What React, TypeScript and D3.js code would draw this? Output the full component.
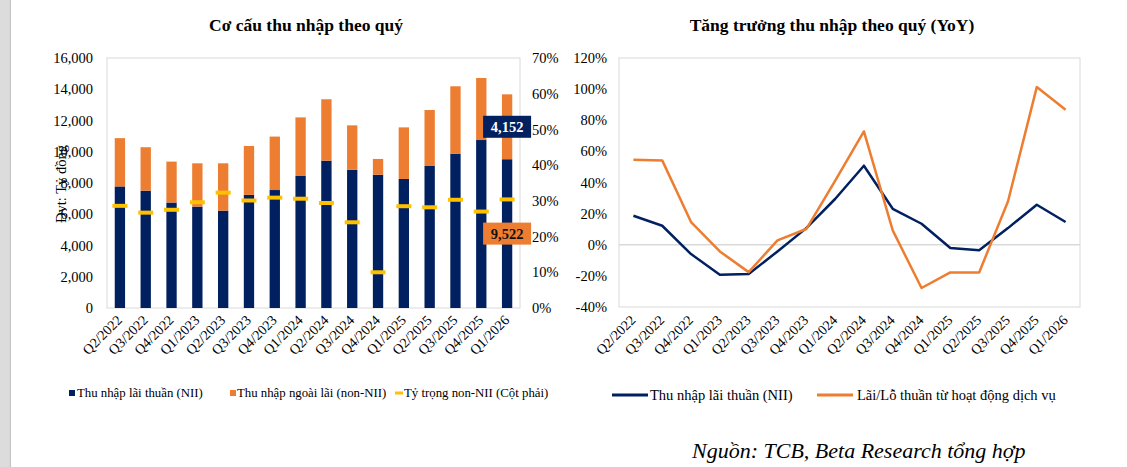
import React from "react";
import * as d3 from "d3";

const quarters = [
  "Q2/2022", "Q3/2022", "Q4/2022", "Q1/2023", "Q2/2023", "Q3/2023", "Q4/2023", "Q1/2024",
  "Q2/2024", "Q3/2024", "Q4/2024", "Q1/2025", "Q2/2025", "Q3/2025", "Q4/2025", "Q1/2026",
];

// Cơ cấu thu nhập (tỷ đồng)
const nii = [7780, 7510, 6750, 6490, 6230, 7240, 7550, 8450, 9430, 8850, 8530, 8260, 9090, 9860, 10750, 9522];
const nonNii = [3090, 2780, 2620, 2770, 3030, 3130, 3420, 3750, 3930, 2840, 1010, 3300, 3580, 4330, 3970, 4152];
// Tỷ trọng non-NII (%)
const nonNiiShare = [28.6, 26.7, 27.5, 29.6, 32.3, 30.1, 30.9, 30.6, 29.4, 24.0, 10.0, 28.5, 28.2, 30.3, 27.0, 30.4];

// Tăng trưởng YoY (%)
const niiGrowth = [18.6, 12.2, -6.0, -19.3, -18.8, -4.3, 10.7, 29.4, 50.8, 23.1, 13.5, -2.1, -3.6, 10.7, 25.7, 14.6];
const feeGrowth = [54.6, 54.2, 14.6, -4.3, -17.6, 2.8, 10.1, 41.0, 72.8, 9.2, -27.8, -17.8, -17.8, 27.8, 101.3, 86.8];

const leftTicks = [0, 2000, 4000, 6000, 8000, 10000, 12000, 14000, 16000];
const rightTicks = [0, 10, 20, 30, 40, 50, 60, 70];
const growthTicks = [-40, -20, 0, 20, 40, 60, 80, 100, 120];

const NAVY = "#002060";
const ORANGE = "#ED7D31";
const YELLOW = "#FFC000";
const GRID = "#d9d9d9";
const FONT = "'Liberation Serif', 'Times New Roman', serif";

const W = 1127;
const H = 467;

const fmt = d3.format(",");

function BarChart() {
  const x = d3.scaleBand().domain(quarters).range([107, 520]).paddingInner(0.6).paddingOuter(0.3);
  const y = d3.scaleLinear().domain([0, 16000]).range([308, 58]);
  const y2 = d3.scaleLinear().domain([0, 70]).range([308, 58]);
  const bw = x.bandwidth();
  const last = quarters.length - 1;
  const lastX = (x(quarters[last]) as number) + bw / 2;

  return (
    <g>
      <text x={306} y={31} textAnchor="middle" fontSize={17.5} fontWeight="bold" fontFamily={FONT}>
        Cơ cấu thu nhập theo quý
      </text>
      <rect x={107} y={58} width={413} height={250} fill="none" stroke={GRID} strokeWidth={1} />
      {leftTicks.map((t) => (
        <text key={t} x={93} y={y(t)} dy="0.35em" textAnchor="end" fontSize={14.5} fontFamily={FONT}>
          {fmt(t)}
        </text>
      ))}
      {rightTicks.map((t) => (
        <text key={t} x={532} y={y2(t)} dy="0.35em" textAnchor="start" fontSize={14.5} fontFamily={FONT}>
          {t}%
        </text>
      ))}
      <text transform={`translate(66,184) rotate(-90)`} textAnchor="middle" fontSize={14.5} fontFamily={FONT}>
        Đvt: Tỷ đồng
      </text>
      {quarters.map((q, i) => (
        <g key={q}>
          <rect x={x(q)} y={y(nii[i])} width={bw} height={y(0) - y(nii[i])} fill={NAVY} />
          <rect x={x(q)} y={y(nii[i] + nonNii[i])} width={bw} height={y(nii[i]) - y(nii[i] + nonNii[i])} fill={ORANGE} />
          <rect x={(x(q) as number) + bw / 2 - 7.5} y={y2(nonNiiShare[i]) - 2} width={15} height={4} fill={YELLOW} />
          <text
            transform={`translate(${(x(q) as number) + bw / 2 + 3},321) rotate(-45)`}
            textAnchor="end"
            fontSize={14}
            fontFamily={FONT}
          >
            {q}
          </text>
        </g>
      ))}
      <g transform={`translate(${lastX},${y(nii[last] + nonNii[last] / 2)})`}>
        <rect x={-24} y={-11} width={48} height={22} fill={NAVY} />
        <text dy="0.35em" textAnchor="middle" fill="#fff" fontWeight="bold" fontSize={14.5} fontFamily={FONT}>
          {fmt(nonNii[last])}
        </text>
      </g>
      <g transform={`translate(${lastX},${y(nii[last] / 2)})`}>
        <rect x={-24} y={-11} width={48} height={22} fill={ORANGE} />
        <text dy="0.35em" textAnchor="middle" fill="#111" fontWeight="bold" fontSize={14.5} fontFamily={FONT}>
          {fmt(nii[last])}
        </text>
      </g>
      <g fontSize={12.8} fontFamily={FONT}>
        <rect x={69} y={390} width={6} height={6} fill={NAVY} />
        <text x={77} y={393} dy="0.35em">Thu nhập lãi thuần (NII)</text>
        <rect x={230} y={390} width={6} height={6} fill={ORANGE} />
        <text x={237} y={393} dy="0.35em">Thu nhập ngoài lãi (non-NII)</text>
        <rect x={395} y={391.5} width={8} height={3} fill={YELLOW} />
        <text x={404} y={393} dy="0.35em">Tỷ trọng non-NII (Cột phải)</text>
      </g>
    </g>
  );
}

function LineChart() {
  const x = d3.scalePoint().domain(quarters).range([619, 1080]).padding(0.5);
  const y = d3.scaleLinear().domain([-40, 120]).range([307, 58]);
  const line = d3
    .line<number>()
    .x((_, i) => x(quarters[i]) as number)
    .y((d) => y(d));

  return (
    <g>
      <text x={832} y={31} textAnchor="middle" fontSize={17.5} fontWeight="bold" fontFamily={FONT}>
        Tăng trưởng thu nhập theo quý (YoY)
      </text>
      <rect x={619} y={58} width={461} height={249} fill="none" stroke={GRID} strokeWidth={1} />
      <line x1={619} x2={1080} y1={y(0)} y2={y(0)} stroke={GRID} strokeWidth={1.5} />
      {growthTicks.map((t) => (
        <text key={t} x={607} y={y(t)} dy="0.35em" textAnchor="end" fontSize={14.5} fontFamily={FONT}>
          {t}%
        </text>
      ))}
      {quarters.map((q) => (
        <text
          key={q}
          transform={`translate(${(x(q) as number) + 3},321) rotate(-45)`}
          textAnchor="end"
          fontSize={14}
          fontFamily={FONT}
        >
          {q}
        </text>
      ))}
      <path d={line(niiGrowth) ?? ""} fill="none" stroke={NAVY} strokeWidth={2.5} strokeLinejoin="round" />
      <path d={line(feeGrowth) ?? ""} fill="none" stroke={ORANGE} strokeWidth={2.5} strokeLinejoin="round" />
      <g fontSize={14.5} fontFamily={FONT}>
        <line x1={612} x2={648} y1={395} y2={395} stroke={NAVY} strokeWidth={3} />
        <text x={650} y={395} dy="0.35em">Thu nhập lãi thuần (NII)</text>
        <line x1={817} x2={853} y1={395} y2={395} stroke={ORANGE} strokeWidth={3} />
        <text x={857} y={395} dy="0.35em">Lãi/Lỗ thuần từ hoạt động dịch vụ</text>
      </g>
    </g>
  );
}

export default function App() {
  return (
    <svg
      width={W}
      height={H}
      viewBox={`0 0 ${W} ${H}`}
      style={{ position: "absolute", left: 0, top: 0, background: "#fff" }}
    >
      <rect x={0} y={0} width={W} height={H} fill="#fff" />
      <rect x={0} y={0} width={9.5} height={H} fill="#dcdcdc" />
      <rect x={9.5} y={0} width={1.5} height={H} fill="#c4c4c4" />
      <BarChart />
      <LineChart />
      <text x={692} y={458} fontSize={22} fontStyle="italic" fontFamily={FONT}>
        Nguồn: TCB, Beta Research tổng hợp
      </text>
    </svg>
  );
}
